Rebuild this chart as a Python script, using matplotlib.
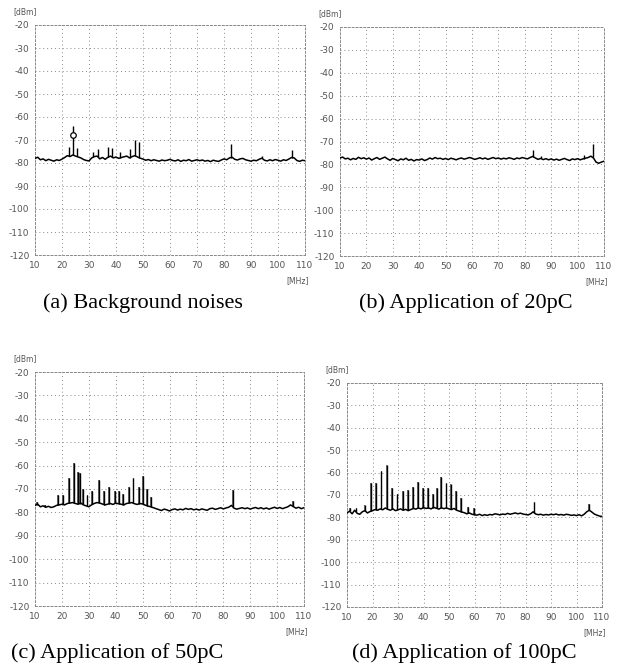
import matplotlib
matplotlib.use("Agg")
import matplotlib.pyplot as plt
import numpy as np

matplotlib.rcParams['font.family'] = 'DejaVu Sans'

# ── data (dBm vs MHz) ──
freq = list(range(10, 111))

base_a = [-78.0, -77.5, -78.6, -78.2, -79.0, -78.4, -78.8, -79.2, -78.6, -78.9,
          -78.3, -77.6, -76.8, -77.2, -76.5, -77.0, -77.4, -77.8, -78.5, -78.9,
          -79.1, -77.8, -77.2, -77.0, -78.2, -77.6, -78.4, -77.5, -77.0, -77.8,
          -77.4, -78.0, -77.6, -77.3, -77.0, -77.8, -77.2, -76.8, -77.4, -77.9,
          -78.3, -78.8, -78.5, -79.0, -78.6, -78.9, -79.2, -78.7, -79.0, -78.8,
          -78.4, -78.9, -79.1, -78.6, -79.3, -78.8, -79.0, -78.5, -79.2, -78.9,
          -78.6, -79.0, -78.7, -79.2, -78.9, -79.4, -78.8, -79.1, -79.3, -78.7,
          -78.2, -78.6, -77.8, -77.5, -78.4, -78.7, -78.2, -78.0, -78.6, -78.9,
          -79.2, -78.8, -79.0, -78.4, -77.9, -78.8, -79.1, -78.6, -79.0, -78.5,
          -78.8, -79.2, -78.6, -78.9, -78.3, -77.6, -77.8, -78.9, -79.3, -78.8, -79.0]
peaks_a_f = [22.5, 24.2, 25.4, 31.6, 33.4, 37.2, 38.5, 41.5, 45.2, 47.0, 48.6, 82.5, 94.0, 105.1]
peaks_a_v = [-73.0, -64.0, -73.5, -75.0, -74.0, -73.0, -73.5, -75.0, -74.0, -70.0, -70.7, -71.7, -77.0, -74.3]
marker_a = (24.2, -68.0)

base_b = [-77.2, -76.8, -77.6, -77.3, -78.0, -77.4, -77.8, -76.9, -77.5, -77.1,
          -77.7, -77.2, -78.1, -77.5, -77.0, -77.8, -77.3, -76.8, -77.6, -78.2,
          -77.4, -77.9, -78.4, -77.6, -78.0, -77.3, -78.2, -77.8, -78.5, -77.9,
          -78.1, -77.6, -78.3, -77.9, -77.2, -77.7, -77.0, -77.5, -77.3, -77.8,
          -77.4, -77.9, -77.3, -77.6, -78.0, -77.5, -77.2, -77.7, -77.4, -77.0,
          -77.3, -77.8, -77.5, -77.1, -77.6, -77.2, -77.8, -77.4, -77.0, -77.5,
          -77.2, -77.7, -77.3, -77.6, -77.1, -77.4, -77.8, -77.2, -77.5, -77.0,
          -77.3, -77.6, -77.0, -76.5, -77.2, -77.8, -77.4, -77.9, -77.5, -78.0,
          -77.6, -78.1, -77.7, -78.2, -77.8, -77.4, -77.9, -78.3, -77.6, -77.9,
          -77.5, -78.0, -77.6, -77.3, -77.0, -76.4, -77.2, -79.0, -79.5, -79.0, -78.6]
peaks_b_f = [83.2, 86.0, 102.5, 105.7]
peaks_b_v = [-73.5, -76.5, -76.0, -71.3]

base_c = [-77.0, -76.5, -77.6, -77.2, -77.8, -77.4, -77.9, -77.6, -77.0, -76.8,
          -76.5, -76.8, -76.2, -76.0, -75.8, -76.2, -76.5, -76.0, -76.8, -77.2,
          -77.6, -76.8, -76.2, -75.8, -76.0, -76.4, -76.8, -76.5, -76.2, -76.6,
          -76.0, -76.3, -76.5, -76.8, -76.2, -76.0, -75.8, -76.3, -76.6, -76.2,
          -76.4, -76.9, -77.3, -77.6, -78.0, -78.4, -78.8, -79.2, -78.6, -78.9,
          -79.4, -78.8, -78.5, -79.0, -78.6, -78.9, -78.3, -78.7, -78.4, -78.9,
          -78.6, -79.0, -78.5, -78.8, -79.1, -78.4, -78.2, -78.7, -78.4, -78.0,
          -78.5, -78.1, -77.8, -77.0, -78.2, -78.6, -78.3, -78.0, -78.4, -78.1,
          -78.6, -78.2, -77.9, -78.4, -78.0, -78.5, -78.1, -78.6, -78.2, -77.8,
          -78.3, -77.9, -78.4, -78.0, -77.6, -76.8, -77.5, -78.2, -77.8, -78.4, -78.0]
peaks_c_f = [10.6, 13.7, 18.5, 20.4, 22.5, 24.4, 25.9, 26.6, 27.7, 29.5, 31.3, 33.8,
             35.6, 37.5, 39.7, 41.1, 42.7, 44.8, 46.6, 48.5, 50.3, 51.5, 53.1, 83.5, 105.8]
peaks_c_v = [-75.6, -77.0, -72.6, -72.6, -65.4, -59.0, -62.6, -63.0, -70.0, -72.6, -70.7, -66.0,
             -70.7, -69.0, -70.7, -70.7, -72.0, -69.0, -65.4, -69.0, -64.6, -70.0, -73.4, -70.4, -75.0]

base_d = [-78.0, -77.2, -78.4, -76.8, -78.2, -78.6, -77.5, -77.0, -78.0, -77.4,
          -77.0, -76.5, -76.8, -76.2, -76.6, -75.8, -76.4, -76.8, -76.2, -77.0,
          -76.6, -76.2, -76.8, -76.4, -77.0, -76.5, -76.0, -76.3, -75.8, -76.2,
          -75.6, -76.0, -75.8, -76.2, -75.5, -75.9, -76.3, -75.7, -76.1, -75.8,
          -76.2, -76.5, -76.0, -76.8, -77.2, -77.6, -77.9, -78.4, -78.0, -78.6,
          -78.8, -79.0, -78.6, -79.2, -78.8, -79.1, -78.7, -78.9, -78.4, -78.6,
          -78.9, -78.5, -78.7, -78.2, -78.6, -78.3, -78.0, -78.4, -78.1, -78.5,
          -78.7, -78.9, -78.4, -77.5, -78.5, -78.8, -78.6, -79.0, -78.7, -78.9,
          -78.6, -78.8, -78.5, -78.9, -78.7, -79.0, -78.6, -78.8, -79.1, -78.9,
          -79.2, -78.8, -79.3, -78.6, -77.5, -76.8, -77.6, -78.5, -79.0, -79.4, -79.6]
peaks_d_f = [11.1, 13.7, 16.9, 19.4, 21.3, 23.5, 25.5, 27.7, 29.8, 31.9, 33.8, 36.0, 37.9,
             39.8, 41.7, 43.6, 45.2, 47.0, 49.0, 50.6, 52.7, 54.7, 57.6, 59.8, 83.5, 105.0]
peaks_d_v = [-76.0, -76.0, -74.4, -64.8, -64.8, -59.3, -56.6, -67.0, -69.7, -68.0, -67.6, -66.3, -64.1,
             -67.0, -67.0, -69.7, -66.7, -61.8, -64.8, -65.3, -68.3, -71.2, -75.2, -76.0, -73.0, -74.0]

y_ticks = [-20, -30, -40, -50, -60, -70, -80, -90, -100, -110, -120]
x_ticks = [10, 20, 30, 40, 50, 60, 70, 80, 90, 100, 110]

captions = ["(a) Background noises", "(b) Application of 20pC",
            "(c) Application of 50pC", "(d) Application of 100pC"]

W, H = 617, 672
fig = plt.figure(figsize=(W / 100, H / 100), dpi=100)

# panel boxes in pixels: left, right, top, bottom
boxes = [(35, 305, 25, 255), (340, 604, 27, 256), (35, 304, 372, 606), (347, 602, 383, 607)]
panels = [(base_a, peaks_a_f, peaks_a_v), (base_b, peaks_b_f, peaks_b_v),
          (base_c, peaks_c_f, peaks_c_v), (base_d, peaks_d_f, peaks_d_v)]
cap_pos = [(143, 303), (466, 303), (117, 653), (464, 653)]

for i, ((l, r, t, b), (base, pf, pv)) in enumerate(zip(boxes, panels)):
    ax = fig.add_axes([l / W, 1 - b / H, (r - l) / W, (b - t) / H])
    ax.set_xlim(10, 110)
    ax.set_ylim(-120, -20)
    ax.set_xticks(x_ticks)
    ax.set_yticks(y_ticks)
    ax.set_xticklabels([str(v) for v in x_ticks])
    ax.set_yticklabels([str(v) for v in y_ticks])
    ax.tick_params(length=0, labelsize=6.5, labelcolor='#555555', pad=4)
    ax.grid(True, linestyle=(0, (1, 3)), color='#888888', linewidth=0.7)
    for s in ax.spines.values():
        s.set_linestyle((0, (2, 2)))
        s.set_color('#888888')
        s.set_linewidth(0.7)

    # baseline level under each peak
    pb = np.interp(pf, freq, base)
    if i >= 2:
        ax.bar(pf, np.array(pv) - pb, bottom=pb, width=0.7, color='#6e6e6e',
               linewidth=0, zorder=2)
    ax.vlines(pf, pb, pv, color='black', linewidth=1.0, zorder=3)
    ax.plot(freq, base, color='black', linewidth=1.1, zorder=3)
    if i == 0:
        ax.plot(marker_a[0], marker_a[1], 'o', mfc='white', mec='black', ms=4, mew=0.9, zorder=4)

    fig.text((l - 22) / W, 1 - (t - 13) / H, "[dBm]", fontsize=5.5, color='#555555', va='center')
    fig.text((r + 4) / W, 1 - (b + 26) / H, "[MHz]", fontsize=5.5, color='#555555',
             va='center', ha='right')

    cx, cy = cap_pos[i]
    fig.text(cx / W, 1 - cy / H, captions[i], fontsize=16, family='Liberation Serif',
             ha='center', va='center', color='black')

plt.savefig("out.png", dpi=100)
plt.close()
